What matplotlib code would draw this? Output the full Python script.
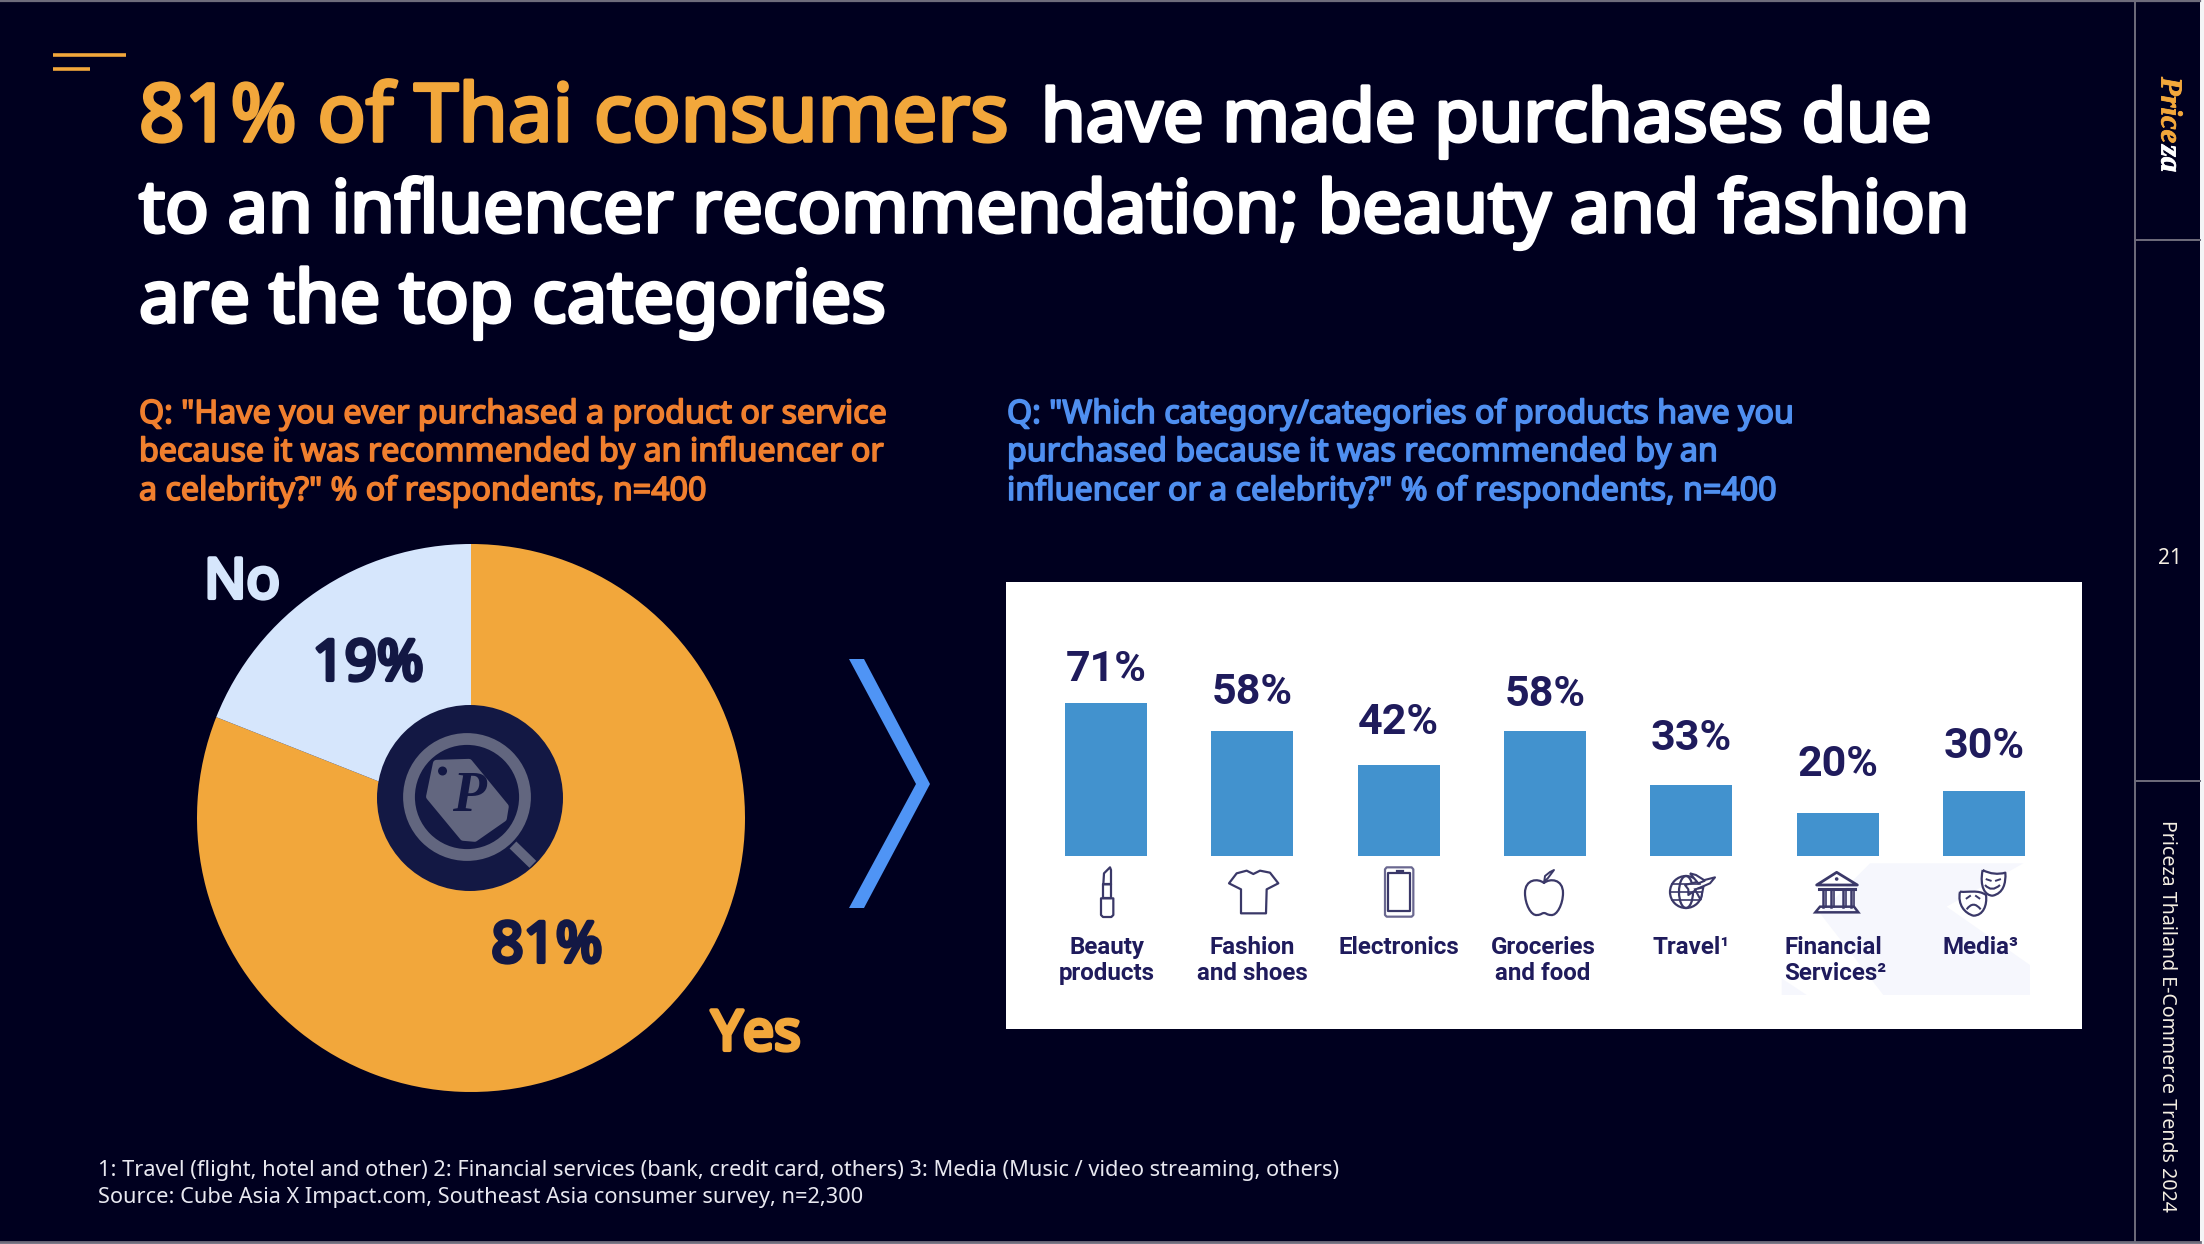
import numpy as np
import matplotlib
matplotlib.use("Agg")
import matplotlib.pyplot as plt
import matplotlib.patheffects as pe
from matplotlib.patches import Polygon, Circle, Rectangle, PathPatch, Ellipse
from matplotlib.path import Path

# ---- data ----
pie_labels = ["Yes", "No"]
pie_values = [81, 19]
categories = ["Beauty\nproducts", "Fashion\nand shoes", "Electronics", "Groceries\nand food",
              "Travel¹", "Financial\nServices²", "Media³"]
bar_values = [71, 58, 42, 58, 33, 20, 30]
title_orange = "81% of Thai consumers"
title_rest = ["have made purchases due",
              "to an influencer recommendation; beauty and fashion",
              "are the top categories"]
q_left = ['Q: "Have you ever purchased a product or service',
          'because it was recommended by an influencer or',
          'a celebrity?" % of respondents, n=400']
q_right = ['Q: "Which category/categories of products have you',
           'purchased because it was recommended by an',
           'influencer or a celebrity?" % of respondents, n=400']
footnotes = ["1: Travel (flight, hotel and other) 2: Financial services (bank, credit card, others) 3: Media (Music / video streaming, others)",
             "Source: Cube Asia X Impact.com, Southeast Asia consumer survey, n=2,300"]

# ---- style ----
W, H = 2204, 1244
BG = "#00001F"; ORANGE = "#F2A73B"; Q_ORANGE = "#F07F2E"; Q_BLUE = "#4F8FF0"
LIGHT = "#D6E6FC"; NAVY = "#131844"; BAR = "#4292CE"; INK = "#1F1B5C"; GREY = "#6E6C7C"
UI = "Noto Sans"
label_offsets = [33, 38, 43, 36, 46, 48, 45]

fig = plt.figure(figsize=(W / 100, H / 100), dpi=100, facecolor="#F4F4F6")

def px_axes(z):
    a = fig.add_axes([0, 0, 1, 1], zorder=z)
    a.set_xlim(0, W); a.set_ylim(H, 0); a.axis("off"); a.patch.set_alpha(0)
    return a

def bold(color, lw):
    return [pe.withStroke(linewidth=lw, foreground=color)]

back = px_axes(0)
front = px_axes(5)

# background, frame
back.add_patch(Rectangle((0, 0), 2200, 1242, fc=BG, ec="none"))
back.plot([0, 2200], [1, 1], color=GREY, lw=1.6)
back.plot([0, 2200], [1242, 1242], color=GREY, lw=2)
back.plot([2135, 2135], [0, 1242], color=GREY, lw=1.4)
back.plot([2135, 2200], [240, 240], color=GREY, lw=1.4)
back.plot([2135, 2200], [781, 781], color=GREY, lw=1.4)

# white panel + faint shape
back.add_patch(Rectangle((1006, 582), 1076, 447, fc="white", ec="none"))
def z9(pts): return [(1620 + x / 3, 850 + y / 3) for x, y in pts]
back.add_patch(Polygon(z9([(750, 40), (1210, 40), (980, 170), (1230, 345), (1230, 435), (790, 435), (600, 190)]),
                       fc="#F6F7FD", ec="none"))
back.add_patch(Polygon(z9([(485, 385), (560, 435), (485, 435)]), fc="#F6F7FD", ec="none"))

# accent
back.plot([53, 126], [55, 55], color=ORANGE, lw=2.6, solid_capstyle="butt")
back.plot([53, 90], [69, 69], color=ORANGE, lw=2.6, solid_capstyle="butt")

# title
T = dict(family=UI, va="baseline", ha="left")
back.text(139, 141, title_orange, color=ORANGE, fontsize=57.5, path_effects=bold(ORANGE, 2.6), **T)
back.text(1041, 141, title_rest[0], color="white", fontsize=52, path_effects=bold("white", 2.6), **T)
back.text(139, 232, title_rest[1], color="white", fontsize=52, path_effects=bold("white", 2.6), **T)
back.text(139, 322, title_rest[2], color="white", fontsize=52, path_effects=bold("white", 2.6), **T)

# questions
Q = dict(family=UI, fontsize=23.2, va="baseline", ha="left")
for y, a, b in zip([423, 461, 500], q_left, q_right):
    back.text(139, y, a, color=Q_ORANGE, path_effects=bold(Q_ORANGE, 1.2), **Q)
    back.text(1007, y, b, color=Q_BLUE, path_effects=bold(Q_BLUE, 1.2), **Q)

# footnotes
for y, s in zip([1176, 1203], footnotes):
    back.text(98, y, s, color="#E8E8F0", family=UI, fontsize=15.65, va="baseline")

# side texts
back.text(2169, 77, "Price", color=ORANGE, family="Liberation Serif", style="italic", fontweight="bold",
          fontsize=22, rotation=270, ha="center", va="top", path_effects=bold(ORANGE, 0.6))
back.text(2169, 145, "za", color="white", family="Liberation Serif", style="italic", fontweight="bold",
          fontsize=22, rotation=270, ha="center", va="top", path_effects=bold("white", 0.6))
back.text(2170, 559, "21", color="#F5EFE3", family=UI, fontsize=15, ha="center", va="center")
back.text(2167, 820, "Priceza Thailand E-Commerce Trends 2024", color="#F5EFE3", family=UI, fontsize=14.1,
          rotation=270, ha="center", va="top")

# chevron
back.add_patch(Polygon([(849, 659), (864, 659), (930, 784), (864, 908), (849, 908), (916, 784)], fc="#4F94F5", ec="none"))

# pie
cx, cy, r = 471, 818, 274
pie_ax = fig.add_axes([(cx - r) / W, 1 - (cy + r) / H, 2 * r / W, 2 * r / H], zorder=2)
pie_ax.pie(pie_values, colors=[ORANGE, LIGHT], startangle=90, counterclock=False, radius=1.0)
pie_ax.set_xlim(-1, 1); pie_ax.set_ylim(-1, 1); pie_ax.axis("off")

P = dict(family=UI, va="baseline", ha="center")
front.text(242, 598, pie_labels[1], color=LIGHT, fontsize=40, path_effects=bold(LIGHT, 3), **P)
front.text(756, 1050, pie_labels[0], color=ORANGE, fontsize=40, path_effects=bold(ORANGE, 3), **P)
front.text(368, 680, f"{pie_values[1]}%", color=NAVY, fontsize=40.5, path_effects=bold(NAVY, 3), **P)
front.text(547, 962, f"{pie_values[0]}%", color=NAVY, fontsize=40.5, path_effects=bold(NAVY, 3), **P)

# centre logo
LG = "#62667F"
def z3(pts): return [(180 + x / 2.613, 530 + y / 3) for x, y in pts]
front.add_patch(Circle((470, 798), 93, fc=NAVY, ec="none"))
front.add_patch(Circle((467, 797), 58, fc="none", ec=LG, lw=8.5))
front.plot(*zip(*z3([(870, 945), (922, 1003)])), color=LG, lw=7, solid_capstyle="butt")
front.add_patch(Polygon(z3([(670, 700), (755, 697), (850, 830), (845, 865), (770, 925), (740, 922), (652, 800)]),
                        fc=LG, ec=LG, lw=5, joinstyle="round"))
front.add_patch(Circle(z3([(686, 723)])[0], 4.5, fc=NAVY, ec="none"))
front.text(469, 797, "P", color=NAVY, family="Liberation Serif", style="italic", fontweight="bold",
           fontsize=40, ha="center", va="center")

# bars
bar_ax = fig.add_axes([1033 / W, 1 - 856 / H, 1024 / W, 216 / H], zorder=3)
bar_ax.patch.set_alpha(0)
xpos = np.arange(len(bar_values))
bar_ax.bar(xpos, bar_values, width=0.56, color=BAR)
bar_ax.set_xlim(-0.5, 6.5); bar_ax.set_ylim(0, 100); bar_ax.axis("off")
for i, (v, off) in enumerate(zip(bar_values, label_offsets)):
    bar_ax.annotate(f"{v}%", (i, v), xytext=(0, off), textcoords="offset pixels", ha="center", va="center",
                    color=INK, family="Roboto", fontweight="bold", fontsize=31, annotation_clip=False)
cat_dx = [1, 0, 0, -2, 0, 0, -3]
for i, (c, dx) in enumerate(zip(categories, cat_dx)):
    left = c.startswith("Financial")
    bar_ax.annotate(c, (i, 0), xytext=(-53 if left else dx, -80), textcoords="offset pixels",
                    ha="left" if left else "center", va="top", ma="left" if left else "center",
                    color=INK, family="Roboto", fontweight="bold", fontsize=17.4, linespacing=1.18,
                    annotation_clip=False)

# icons (decorative, in pixel space)
IK = "#3A3868"
IC = dict(fc="none", ec=IK, lw=1.6, joinstyle="round")
def z8(pts): return [(1040 + x / 3, 850 + y / 3) for x, y in pts]
# lipstick
front.add_patch(Polygon(z8([(183, 145), (220, 145), (220, 195), (214, 201), (189, 201), (183, 195)]), **IC))
front.add_patch(Polygon(z8([(190, 103), (213, 103), (213, 145), (190, 145)]), **IC))
front.add_patch(Polygon(z8([(190, 103), (192, 70), (210, 52), (213, 60), (213, 103)]), **IC))
# shirt
front.add_patch(Polygon(z8([(620, 62), (640, 72), (660, 62), (690, 68), (715, 100), (680, 118), (678, 190),
                            (603, 190), (603, 118), (567, 100), (590, 70)]), **IC))
# phone
front.add_patch(Polygon(z8([(1040, 52), (1115, 52), (1120, 58), (1120, 195), (1115, 200), (1040, 200),
                            (1035, 195), (1035, 58)]), **dict(IC, ec="#6A6890")))
front.add_patch(Rectangle(z8([(1045, 70)])[0], 65 / 3, 112 / 3, **IC))
front.plot(*zip(*z8([(1070, 62), (1088, 62)])), color=IK, lw=1.6)
# apple
ax_, ay_ = 1544, 880
apple = Path([(ax_, ay_ + 3), (ax_ - 6, ay_ - 2), (ax_ - 19, ay_ - 1), (ax_ - 19, ay_ + 13),
              (ax_ - 19, ay_ + 24), (ax_ - 13, ay_ + 36), (ax_ - 7, ay_ + 35),
              (ax_ - 3, ay_ + 35), (ax_ - 2, ay_ + 33), (ax_, ay_ + 33),
              (ax_ + 2, ay_ + 33), (ax_ + 3, ay_ + 35), (ax_ + 7, ay_ + 35),
              (ax_ + 13, ay_ + 36), (ax_ + 19, ay_ + 24), (ax_ + 19, ay_ + 13),
              (ax_ + 19, ay_ - 1), (ax_ + 6, ay_ - 2), (ax_, ay_ + 3)],
             [Path.MOVETO] + [Path.CURVE4] * 18)
front.add_patch(PathPatch(apple, **IC))
front.plot([ax_, ax_ + 1, ax_ + 6, ax_ + 10, ax_ + 4, ax_ + 1], [ay_ + 3, ay_ - 4, ay_ - 8, ay_ - 10, ay_ - 2, ay_ + 1],
           color=IK, lw=1.4)
# globe + plane
gx, gy = 1686, 892
front.add_patch(Circle((gx, gy), 16, **IC))
front.add_patch(Ellipse((gx, gy), 14, 32, **IC))
front.plot([gx - 16, gx + 16], [gy, gy], color=IK, lw=1.2)
front.plot([gx - 14, gx + 14], [gy - 8, gy - 8], color=IK, lw=1.2)
front.plot([gx - 14, gx + 14], [gy + 8, gy + 8], color=IK, lw=1.2)
front.add_patch(Polygon(z9([(195, 105), (285, 82), (270, 100), (235, 115), (205, 135), (205, 118)]),
                        fc="white", ec=IK, lw=1.5, joinstyle="round"))
front.add_patch(Polygon(z9([(210, 70), (228, 75), (255, 92), (235, 100)]), fc="white", ec=IK, lw=1.5))
front.add_patch(Polygon(z9([(225, 118), (250, 112), (242, 150)]), fc="white", ec=IK, lw=1.5))
# bank
front.add_patch(Polygon(z9([(590, 105), (650, 67), (712, 105)]), **dict(IC, fc="white", lw=2)))
front.add_patch(Circle(z9([(650, 87)])[0], 1.8, fc=IK, ec="none"))
front.plot(*zip(*z9([(598, 116), (704, 116)])), color=IK, lw=2.2)
for xc in [608, 632, 668, 692]:
    front.plot(*zip(*z9([(xc, 116), (xc, 170)])), color=IK, lw=1.8)
    front.plot(*zip(*z9([(xc + 10, 116), (xc + 10, 170)])), color=IK, lw=1.2)
front.add_patch(Polygon(z9([(600, 170), (702, 170), (715, 187), (586, 187)]), fc="none", ec=IK, lw=1.8))
# masks
def mask(xs, ys):
    v = list(zip(xs, ys))
    return Path(z9(v), [Path.MOVETO] + [Path.CURVE4] * (len(v) - 1))
front.add_patch(PathPatch(mask([1088, 1110, 1135, 1156, 1158, 1150, 1118, 1095, 1078, 1088],
                               [60, 72, 74, 68, 100, 130, 137, 137, 110, 60]), **dict(IC, fc="white")))
front.add_patch(PathPatch(mask([1020, 1045, 1075, 1098, 1102, 1090, 1060, 1035, 1012, 1020],
                               [125, 128, 118, 135, 165, 197, 197, 190, 165, 125]), **dict(IC, fc="white")))
front.add_patch(PathPatch(Path(z9([(1095, 105), (1115, 128), (1140, 105)]), [Path.MOVETO, Path.CURVE3, Path.CURVE3]), fc="none", ec=IK, lw=1.5))
front.add_patch(PathPatch(Path(z9([(1040, 178), (1060, 150), (1082, 178)]), [Path.MOVETO, Path.CURVE3, Path.CURVE3]), fc="none", ec=IK, lw=1.5))
for seg in [[(1100, 88), (1112, 92)], [(1128, 92), (1140, 88)], [(1040, 145), (1050, 138)], [(1068, 138), (1078, 145)]]:
    front.plot(*zip(*z9(seg)), color=IK, lw=1.4)

fig.savefig("out.png", dpi=100, facecolor=fig.get_facecolor())
